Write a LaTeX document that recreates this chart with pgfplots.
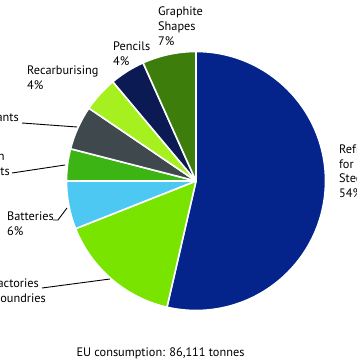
\documentclass[border=0pt]{standalone}
\usepackage{pgfplots}
\pgfplotsset{compat=1.18}
\usepackage{pgfplotstable}
\usepackage{fontspec}
\setmainfont{PT Sans}

\definecolor{cSteel}{HTML}{04248C}
\definecolor{cFound}{HTML}{78E400}
\definecolor{cBatt}{HTML}{4CC8F2}
\definecolor{cFric}{HTML}{3CB414}
\definecolor{cLub}{HTML}{3E484D}
\definecolor{cRecarb}{HTML}{A6F020}
\definecolor{cPenc}{HTML}{0B1A52}
\definecolor{cGraph}{HTML}{3C7D0C}

% share in percent, clockwise from 12 o'clock
\pgfplotstableread{
share col
53.6 cSteel
15.4 cFound
6.0 cBatt
4.0 cFric
5.5 cLub
4.4 cRecarb
4.4 cPenc
6.7 cGraph
}\piedata

\begin{document}
\begin{tikzpicture}[lab/.style={font=\fontsize{12.3}{15}\selectfont, inner sep=0pt, align=left}]
\def\startang{90}
\def\R{129.5}
\begin{axis}[hide axis, x=1pt, y=1pt, xmin=-196, xmax=160, ymin=-183, ymax=181, clip=false]
\pgfplotstablegetrowsof{\piedata}
\pgfmathtruncatemacro\nrows{\pgfplotsretval-1}
\pgfplotsforeachungrouped \i in {0,...,\nrows}{
  \pgfplotstablegetelem{\i}{share}\of\piedata
  \let\sliceval\pgfplotsretval
  \pgfplotstablegetelem{\i}{col}\of\piedata
  \let\slicecol\pgfplotsretval
  \pgfmathsetmacro\endang{\startang - 3.6*\sliceval}
  \edef\temp{\noexpand\fill[\slicecol, draw=white, line width=1.6pt, line join=round] (axis cs:0,0) -- ++(\startang:\R pt) arc[start angle=\startang, end angle=\endang, radius=\R pt] -- cycle;}
  \temp
  \global\let\startang\endang
}
\coordinate (bl) at (axis cs:-196,-183);
\coordinate (tr) at (axis cs:160,181);

% labels (base anchor = baseline of last line)
\node[lab, anchor=base west] at (axis cs:-38,135) {Graphite\\Shapes\\7\%};
\node[lab, anchor=base west] at (axis cs:-83,115) {Pencils\\4\%};
\node[lab, anchor=base west] at (axis cs:-169,91) {Recarburising\\4\%};
\node[lab, anchor=base east] (lub) at (axis cs:-177,59) {Lubricants};
\node[lab, anchor=base west] at ([yshift=-15pt]lub.base west) {5\%};
\node[lab, anchor=base east] (prod) at (axis cs:-186,5) {Products};
\node[lab, anchor=base west] at ([yshift=15pt]prod.base west) {Friction};
\node[lab, anchor=base west] at ([yshift=-15pt]prod.base west) {4\%};
\node[lab, anchor=base west] at (axis cs:-189,-55) {Batteries\\6\%};
\node[lab, anchor=base east] (fou) at (axis cs:-150,-122) {for Foundries};
\node[lab, anchor=base east] (ref) at (axis cs:-157,-107) {Refractories};
\node[lab, anchor=base west] at ([yshift=-30pt]ref.base west) {15\%};
\node[lab, anchor=base west, font=\fontsize{12.3}{14.5}\selectfont] at (axis cs:143,-16.5) {Refractories\\for\\Steel\\54\%};
\node[lab, anchor=base] at (axis cs:-35.5,-175) {EU consumption: 86,111 tonnes};

% leader lines
\draw[line width=0.9pt] (axis cs:-174,58) -- (axis cs:-119,54);
\draw[line width=0.9pt] (axis cs:-184,8) -- (axis cs:-131,16);
\draw[line width=0.9pt] (axis cs:-143,-39) -- (axis cs:-138,-39) -- (axis cs:-129,-27);
\draw[line width=0.9pt] (axis cs:-154,-107) -- (axis cs:-86,-98);
\end{axis}
\pgfresetboundingbox
\path[use as bounding box] (bl) rectangle (tr);
\end{tikzpicture}
\end{document}
